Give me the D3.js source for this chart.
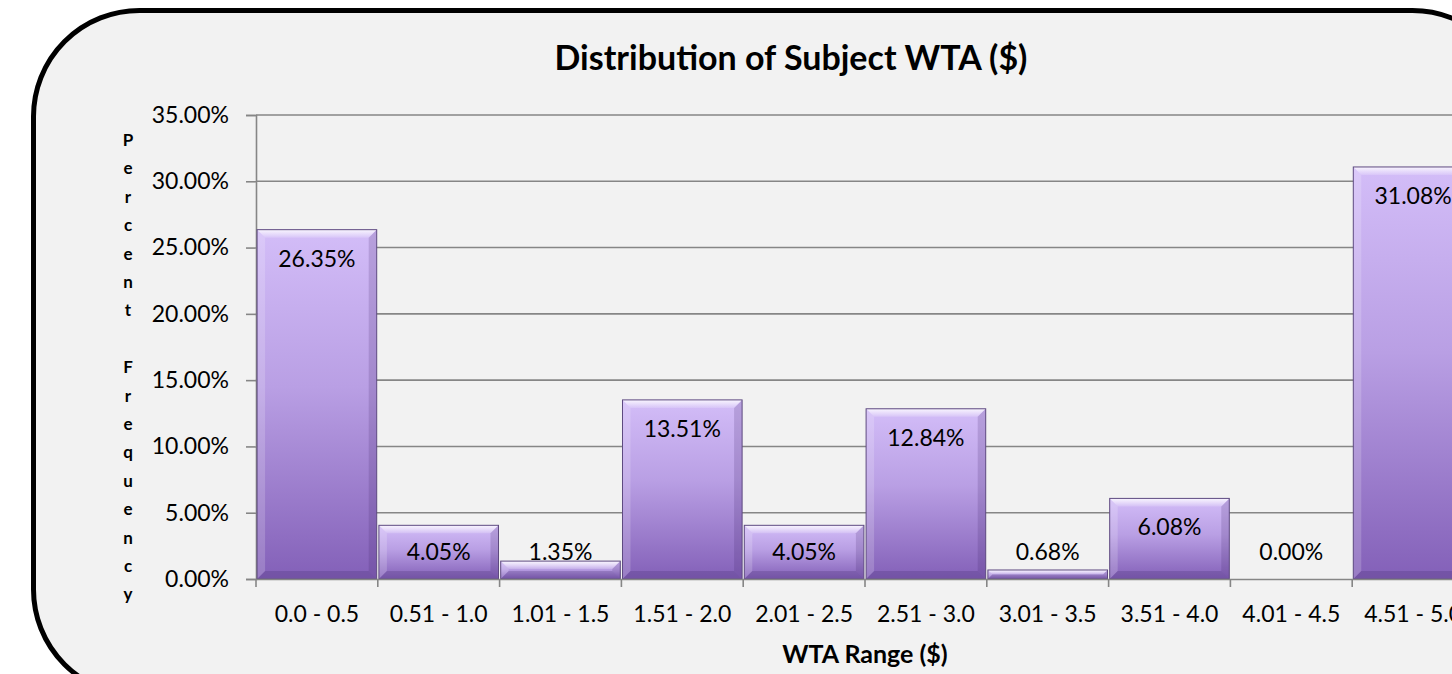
<!DOCTYPE html>
<html>
<head>
<meta charset="utf-8">
<style>
  body { margin: 0; background: #fff; }
  svg { display: block; font-family: Lato, "Open Sans", sans-serif; }
</style>
</head>
<body>
<svg width="1452" height="674"></svg>
<script src="https://d3js.org/d3.v7.min.js"></script>
<script>

var categories = ["0.0 - 0.5", "0.51 - 1.0", "1.01 - 1.5", "1.51 - 2.0", "2.01 - 2.5",
                  "2.51 - 3.0", "3.01 - 3.5", "3.51 - 4.0", "4.01 - 4.5", "4.51 - 5.0"];
var values = [26.35, 4.05, 1.35, 13.51, 4.05, 12.84, 0.68, 6.08, 0.00, 31.08];
var yTicks = [0, 5, 10, 15, 20, 25, 30, 35];
var yLabel = "Percent Frequency";

var svg = d3.select("svg");

var x = d3.scaleBand()
    .domain(categories)
    .range([256, 1474])
    .paddingInner(0.018)
    .paddingOuter(0.009);

var y = d3.scaleLinear()
    .domain([0, 35])
    .range([579, 115]);

var defs = svg.append("defs");

var fillGrad = defs.append("linearGradient")
    .attr("id", "barFill")
    .attr("x1", 0).attr("y1", 0).attr("x2", 0).attr("y2", 1);
fillGrad.append("stop").attr("offset", "0%").attr("stop-color", "#d3bdf8");
fillGrad.append("stop").attr("offset", "45%").attr("stop-color", "#b99fe4");
fillGrad.append("stop").attr("offset", "100%").attr("stop-color", "#8360b8");

var topGrad = defs.append("linearGradient")
    .attr("id", "bevelTop")
    .attr("x1", 0).attr("y1", 0).attr("x2", 0).attr("y2", 1);
topGrad.append("stop").attr("offset", "0%").attr("stop-color", "#fff").attr("stop-opacity", 0.85);
topGrad.append("stop").attr("offset", "100%").attr("stop-color", "#fff").attr("stop-opacity", 0.15);

// frame
svg.append("rect")
    .attr("x", 33.5)
    .attr("y", 10.5)
    .attr("width", 1485)
    .attr("height", 685)
    .attr("rx", 106)
    .attr("fill", "#f2f2f2")
    .attr("stroke", "#000")
    .attr("stroke-width", 5);

// gridlines
svg.append("g")
  .selectAll("line")
  .data(yTicks.slice(1))
  .enter().append("line")
    .attr("x1", 256)
    .attr("x2", 1474)
    .attr("y1", function(d) { return y(d); })
    .attr("y2", function(d) { return y(d); })
    .attr("stroke", "#868686")
    .attr("stroke-width", 1.6);

// y axis
var yAxis = svg.append("g")
    .attr("transform", "translate(256,0)")
    .call(d3.axisLeft(y)
      .tickValues(yTicks)
      .tickSize(10)
      .tickPadding(17)
      .tickFormat(function(d) { return d.toFixed(2) + "%"; }));
yAxis.select(".domain").attr("stroke", "#868686").attr("stroke-width", 1.6);
yAxis.selectAll(".tick line").attr("stroke", "#868686").attr("stroke-width", 1.6);
yAxis.selectAll("text")
    .attr("font-family", "Lato, sans-serif")
    .attr("font-size", 23)
    .attr("fill", "#000");

// bars
var bars = svg.append("g")
  .selectAll("g")
  .data(values)
  .enter().append("g")
    .attr("transform", function(d, i) { return "translate(" + x(categories[i]) + "," + y(d) + ")"; });

var bw = x.bandwidth();

bars.filter(function(d) { return d > 0; })
    .each(function(d) {
      var g = d3.select(this),
          h = y(0) - y(d),
          b = Math.min(8, h / 2);
      g.append("rect")
          .attr("width", bw)
          .attr("height", h)
          .attr("fill", "url(#barFill)");
      // top bevel
      g.append("path")
          .attr("d", "M0,0H" + bw + "L" + (bw - b) + "," + b + "H" + b + "Z")
          .attr("fill", "url(#bevelTop)");
      // side bevels
      g.append("path")
          .attr("d", "M0,0L" + b + "," + b + "V" + (h - b) + "L0," + h + "Z")
          .attr("fill", "#ffffff").attr("fill-opacity", 0.18);
      g.append("path")
          .attr("d", "M" + bw + ",0L" + (bw - b) + "," + b + "V" + (h - b) + "L" + bw + "," + h + "Z")
          .attr("fill", "#3c2466").attr("fill-opacity", 0.18);
      // bottom bevel
      g.append("path")
          .attr("d", "M0," + h + "L" + b + "," + (h - b) + "H" + (bw - b) + "L" + bw + "," + h + "Z")
          .attr("fill", "#3c2466").attr("fill-opacity", 0.22);
      g.append("rect")
          .attr("width", bw)
          .attr("height", h)
          .attr("fill", "none")
          .attr("stroke", "#5e4a80")
          .attr("stroke-width", 1);
    });

// x axis
var xAxis = svg.append("g")
    .attr("transform", "translate(0," + y(0) + ")")
    .call(d3.axisBottom(x).tickSize(0).tickPadding(27));
xAxis.select(".domain").attr("stroke", "#868686").attr("stroke-width", 1.6);
xAxis.selectAll("text")
    .attr("font-family", "Lato, sans-serif")
    .attr("font-size", 23)
    .attr("fill", "#000");

// category boundary ticks
var bounds = categories.map(function(c) { return x(c) - x.step() * x.paddingInner() / 2; });
xAxis.append("g")
  .selectAll("line")
  .data(bounds)
  .enter().append("line")
    .attr("x1", function(d) { return d; })
    .attr("x2", function(d) { return d; })
    .attr("y1", 0)
    .attr("y2", 8)
    .attr("stroke", "#868686")
    .attr("stroke-width", 1.6);

// data labels
svg.append("g")
  .selectAll("text")
  .data(values)
  .enter().append("text")
    .attr("x", function(d, i) { return x(categories[i]) + bw / 2; })
    .attr("y", function(d) { return Math.min(y(d) + 29, y(0) - 27) + 8; })
    .attr("text-anchor", "middle")
    .attr("font-size", 23)
    .attr("fill", "#000")
    .text(function(d) { return d.toFixed(2) + "%"; });

// title
svg.append("text")
    .attr("x", 791)
    .attr("y", 70)
    .attr("text-anchor", "middle")
    .attr("font-size", 34)
    .attr("font-weight", "bold")
    .attr("fill", "#000")
    .text("Distribution of Subject WTA ($)");

// x axis title
svg.append("text")
    .attr("x", 865)
    .attr("y", 663)
    .attr("text-anchor", "middle")
    .attr("font-size", 25)
    .attr("font-weight", "bold")
    .attr("fill", "#000")
    .text("WTA Range ($)");

// stacked y axis title
svg.append("text")
    .attr("text-anchor", "middle")
    .attr("font-size", 17)
    .attr("font-weight", "bold")
    .attr("fill", "#000")
  .selectAll("tspan")
  .data(yLabel.split(""))
  .enter().append("tspan")
    .attr("x", 128)
    .attr("y", function(d, i) { return 146 + 28.4 * i; })
    .text(function(d) { return d; });

</script>
</body>
</html>
